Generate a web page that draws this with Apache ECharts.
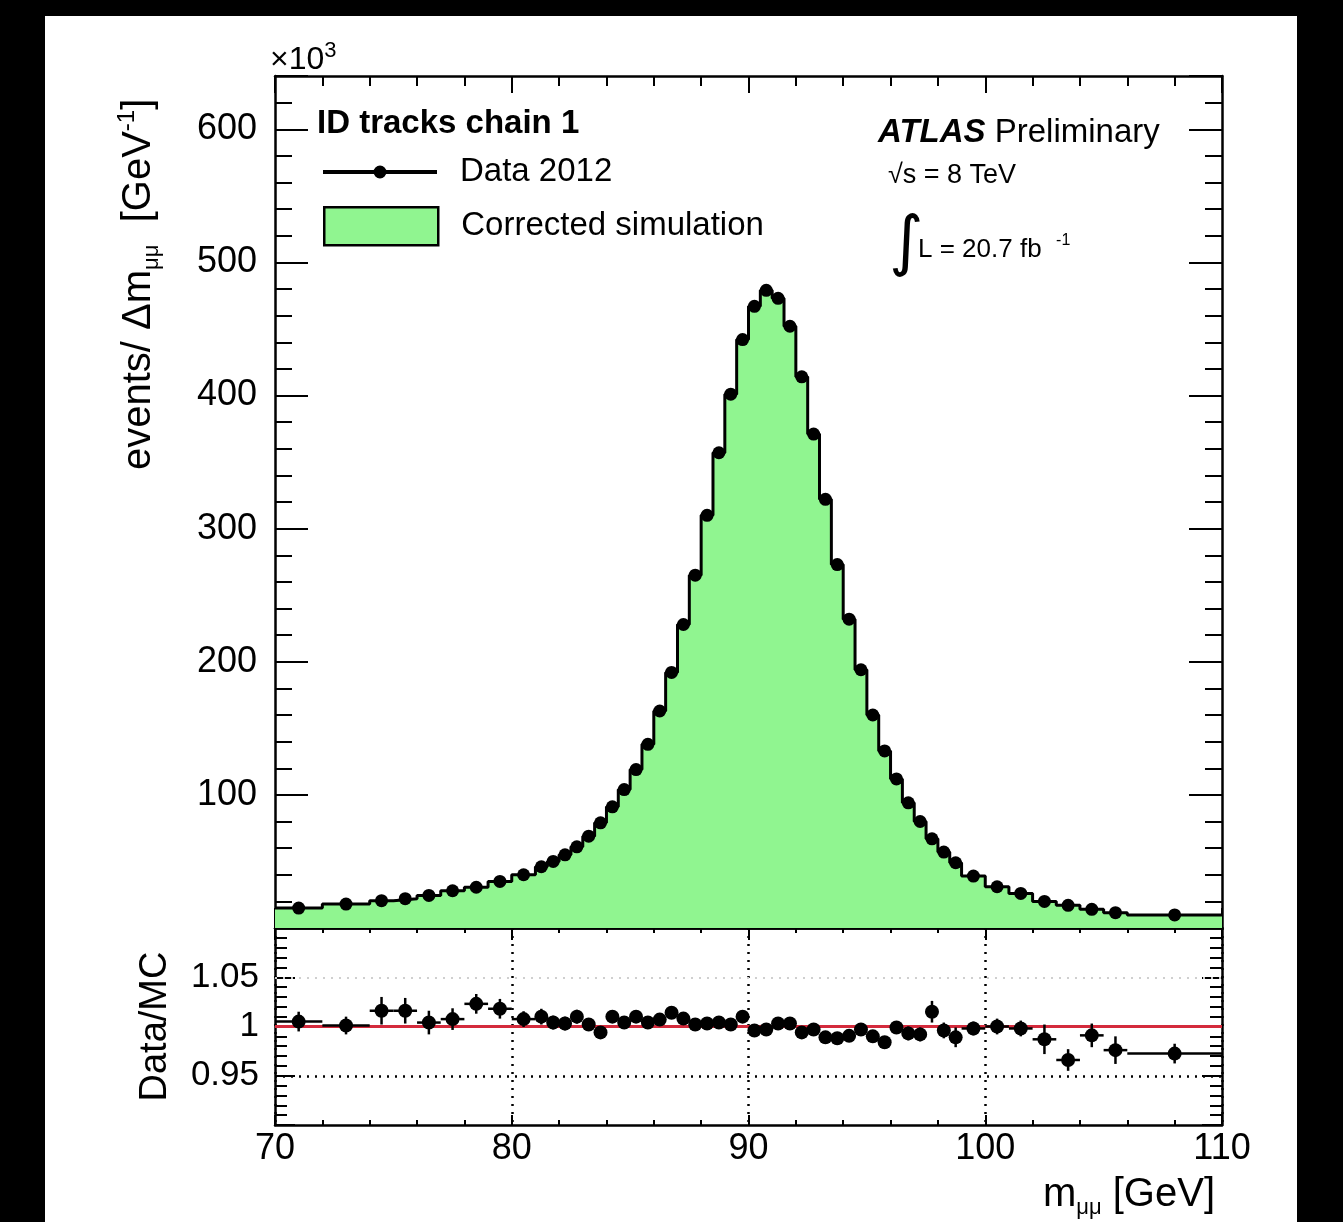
<!DOCTYPE html>
<html>
<head>
<meta charset="utf-8">
<title>ID tracks chain 1 - dimuon mass</title>
<script src="https://cdn.jsdelivr.net/npm/echarts@6/dist/echarts.min.js"></script>
<style>
  html, body { margin: 0; padding: 0; background: #000; }
  #paper { position: absolute; left: 45px; top: 16px; width: 1252px; height: 1206px; background: #fff; }
  #chart-container { position: absolute; left: 0; top: 0; width: 1343px; height: 1222px; }
</style>
</head>
<body>
<div id="paper"></div>
<div id="chart-container"></div>
<script>
// bin edges [GeV] - variable binning, 0.5 GeV around the peak
var binEdges = [
  70, 72, 74, 75, 76, 77, 78, 79, 80, 81,
  81.5, 82, 82.5, 83, 83.5, 84, 84.5, 85, 85.5, 86, 86.5, 87, 87.5, 88, 88.5, 89, 89.5, 90,
  90.5, 91, 91.5, 92, 92.5, 93, 93.5, 94, 94.5, 95, 95.5, 96, 96.5, 97, 97.5, 98, 98.5, 99,
  100, 101, 102, 103, 104, 105, 106, 110
];

// events / GeV, in units of 10^3 (data and corrected simulation overlap)
var eventsK = [
  15, 18, 20.5, 22, 24.5, 28, 30.6, 35, 40,
  46, 50, 55, 61, 69, 79, 91, 104, 119, 138, 163, 192, 228, 265, 310, 357, 401, 442,
  467, 479, 473, 452, 414, 371, 322, 273, 232, 194, 160, 133, 112, 94, 80, 67, 57, 49,
  39, 31, 26, 20, 17, 14, 11.5, 9.8
];

// Data/MC ratio and its uncertainty
var ratio = [
  1.005, 1.001, 1.016, 1.016, 1.004, 1.0075, 1.023, 1.018, 1.0075,
  1.010, 1.004, 1.003, 1.010, 1.002, 0.994, 1.010, 1.004, 1.010, 1.004, 1.007, 1.014, 1.008, 1.002, 1.003, 1.004, 1.002, 1.010,
  0.996, 0.997, 1.003, 1.003, 0.994, 0.997, 0.989, 0.988, 0.9905, 0.997, 0.990, 0.984, 0.999, 0.993, 0.992, 1.015, 0.996, 0.989,
  0.998, 1.000, 0.998, 0.987, 0.966, 0.991, 0.976, 0.9725
];
var ratioErr = [
  0.010, 0.009, 0.014, 0.013, 0.012, 0.011, 0.010, 0.010, 0.008,
  0.008, 0.007, 0.007, 0.007, 0.006, 0.006, 0.006, 0.005, 0.005, 0.005, 0.005, 0.004, 0.004, 0.004, 0.004, 0.004, 0.004, 0.004,
  0.004, 0.004, 0.004, 0.004, 0.004, 0.004, 0.004, 0.004, 0.004, 0.005, 0.005, 0.005, 0.006, 0.007, 0.007, 0.011, 0.008, 0.010,
  0.007, 0.008, 0.008, 0.015, 0.011, 0.012, 0.014, 0.010
];

var xTicks = [70, 80, 90, 100, 110];
var ratioTicks = ['0.95', '1', '1.05'];

var FONT = 'Liberation Sans';
var GREEN = '#90f590';
var RED = '#d42a3c';

// build step outline + data points from the bins
var stepPoints = [];
var dataPoints = [];
var ratioPoints = [];
for (var i = 0; i < eventsK.length; i++) {
  var lo = binEdges[i], hi = binEdges[i + 1], c = (lo + hi) / 2;
  stepPoints.push([lo, eventsK[i]]);
  stepPoints.push([hi, eventsK[i]]);
  dataPoints.push([c, eventsK[i]]);
  ratioPoints.push([c, ratio[i], lo, hi, ratioErr[i]]);
}

function renderRatio(params, api) {
  var a = api.coord([api.value(2), api.value(1)]);
  var b = api.coord([api.value(3), api.value(1)]);
  var up = api.coord([api.value(0), api.value(1) + api.value(4)]);
  var dn = api.coord([api.value(0), api.value(1) - api.value(4)]);
  var p = api.coord([api.value(0), api.value(1)]);
  var st = { stroke: '#000', lineWidth: 2.5 };
  return {
    type: 'group',
    children: [
      { type: 'line', shape: { x1: a[0], y1: a[1], x2: b[0], y2: b[1] }, style: st },
      { type: 'line', shape: { x1: up[0], y1: up[1], x2: dn[0], y2: dn[1] }, style: st },
      { type: 'circle', shape: { cx: p[0], cy: p[1], r: 7 }, style: { fill: '#000' } }
    ]
  };
}

var frame = { show: true, onZero: false, lineStyle: { color: '#000', width: 2.5 } };

function xAxisCfg(grid, pos, major, minor, labels) {
  return {
    type: 'value', gridIndex: grid, position: pos, min: 70, max: 110, interval: 10,
    axisLine: frame,
    axisTick: { show: true, inside: true, length: major, lineStyle: { color: '#000', width: 2 } },
    minorTick: { show: true, splitNumber: 5, length: minor, lineStyle: { color: '#000', width: 2 } },
    axisLabel: {
      show: labels, margin: 6, fontSize: 36, fontFamily: FONT, color: '#000',
      formatter: function (v) { return xTicks.indexOf(v) >= 0 ? String(v) : ''; }
    },
    splitLine: { show: false }
  };
}

function yMainCfg(pos, interval, len, labels, line) {
  return {
    type: 'value', gridIndex: 0, position: pos, min: 0, max: 640, interval: interval,
    axisLine: line ? frame : { show: false },
    axisTick: { show: true, inside: true, length: len, lineStyle: { color: '#000', width: 2 } },
    axisLabel: {
      show: labels, margin: 18, fontSize: 36, fontFamily: FONT, color: '#000',
      formatter: function (v) { return (v > 0 && v <= 600) ? String(v) : ''; }
    },
    splitLine: { show: false }
  };
}

function yRatioCfg(pos, labels) {
  return {
    type: 'value', gridIndex: 1, position: pos, min: 0.9, max: 1.1, interval: 0.05,
    axisLine: frame,
    axisTick: { show: true, inside: true, length: 20, lineStyle: { color: '#000', width: 2 } },
    minorTick: { show: true, splitNumber: 5, length: 12, lineStyle: { color: '#000', width: 2 } },
    axisLabel: {
      show: labels, margin: 16, fontSize: 35, fontFamily: FONT, color: '#000',
      formatter: function (v) {
        var s = String(Math.round(v * 100) / 100);
        return ratioTicks.indexOf(s) >= 0 ? s : '';
      }
    },
    splitLine: { show: false },
    name: labels ? 'Data/MC' : '',
    nameLocation: 'middle', nameRotate: 90, nameGap: 100,
    nameTextStyle: { fontSize: 38, fontFamily: FONT, color: '#000' }
  };
}

var dataIcon = 'path://M0,4.5L51,4.5L51,8.5L0,8.5Z M63,4.5L114,4.5L114,8.5L63,8.5Z M50.5,6.5A6.5,6.5,0,1,1,63.5,6.5A6.5,6.5,0,1,1,50.5,6.5Z';

var chartDom = document.getElementById('chart-container');
var myChart = echarts.init(chartDom, null, { renderer: 'canvas' });

var option = {
  animation: false,
  backgroundColor: 'transparent',
  grid: [
    { left: 275, right: 121, top: 76, height: 852 },
    { left: 275, right: 121, top: 928, height: 197 }
  ],
  xAxis: [
    xAxisCfg(0, 'bottom', 20, 10, false),
    xAxisCfg(0, 'top', 17, 10, false),
    Object.assign(xAxisCfg(1, 'bottom', 10, 5, true), {
      splitLine: { show: true, lineStyle: { color: '#000', width: 2.5, type: [2, 6] } }
    }),
    xAxisCfg(1, 'top', 12, 5, false)
  ],
  yAxis: [
    yMainCfg('left', 100, 33, true, true),
    yMainCfg('left', 20, 17, false, false),
    yMainCfg('right', 100, 33, false, true),
    yMainCfg('right', 20, 17, false, false),
    yRatioCfg('left', true),
    yRatioCfg('right', false)
  ],
  legend: [
    {
      left: 323, top: 152, padding: 0, itemWidth: 114, itemHeight: 13, selectedMode: false,
      data: [{ name: 'Data 2012', icon: dataIcon, itemStyle: { color: '#000', opacity: 1 } }],
      textStyle: { fontSize: 33, fontFamily: FONT, color: '#000', lineHeight: 40, padding: [0, 0, 0, 18] }
    },
    {
      left: 323, top: 206, padding: 0, itemWidth: 114, itemHeight: 38, selectedMode: false,
      data: [{ name: 'Corrected simulation', icon: 'rect',
        itemStyle: { color: GREEN, borderColor: '#000', borderWidth: 2.5, opacity: 1 } }],
      textStyle: { fontSize: 33, fontFamily: FONT, color: '#000', lineHeight: 40, padding: [0, 0, 0, 18] }
    }
  ],
  series: [
    {
      name: 'Corrected simulation', type: 'line', xAxisIndex: 0, yAxisIndex: 0,
      data: stepPoints, symbol: 'none', z: 2,
      lineStyle: { color: '#000', width: 3 },
      itemStyle: { color: '#000' },
      areaStyle: { color: GREEN, opacity: 1 }
    },
    {
      name: 'Data 2012', type: 'scatter', xAxisIndex: 0, yAxisIndex: 0,
      data: dataPoints, symbol: 'circle', symbolSize: 13, z: 3,
      itemStyle: { color: '#000', opacity: 1 }
    },
    {
      name: 'Data/MC', type: 'custom', xAxisIndex: 2, yAxisIndex: 4, z: 3,
      data: ratioPoints, encode: { x: 0, y: 1 }, renderItem: renderRatio,
      markLine: {
        silent: true, symbol: 'none', z: 1, label: { show: false },
        data: [
          { yAxis: 1, lineStyle: { color: RED, width: 3, type: 'solid' } },
          { yAxis: 0.95, lineStyle: { color: '#000', width: 2.5, type: [2, 6] } },
          { yAxis: 1.05, lineStyle: { color: '#cfcfcf', width: 2, type: [2, 6] } }
        ]
      }
    }
  ],
  graphic: [
    {
      type: 'text', x: 270, y: 60,
      style: {
        text: '×10{sup|3}', fontSize: 32, fontFamily: FONT, fill: '#000',
        align: 'left', textAlign: 'left', verticalAlign: 'middle', textVerticalAlign: 'middle',
        rich: { sup: { fontSize: 22, fontFamily: FONT, verticalAlign: 'top', lineHeight: 40 } }
      }
    },
    {
      type: 'text', x: 139, y: 470, rotation: Math.PI / 2,
      style: {
        text: 'events/ Δm{sub|μμ}  [GeV{sup|-1}]', fontSize: 40, fontFamily: FONT, fill: '#000',
        align: 'left', textAlign: 'left', verticalAlign: 'middle', textVerticalAlign: 'middle',
        rich: {
          sub: { fontSize: 22, fontFamily: FONT, verticalAlign: 'bottom', lineHeight: 48 },
          sup: { fontSize: 24, fontFamily: FONT, verticalAlign: 'top', lineHeight: 48 }
        }
      }
    },
    {
      type: 'text', x: 1215, y: 1195,
      style: {
        text: 'm{sub|μμ} [GeV]', fontSize: 40, fontFamily: FONT, fill: '#000',
        align: 'right', textAlign: 'right', verticalAlign: 'middle', textVerticalAlign: 'middle',
        rich: { sub: { fontSize: 22, fontFamily: FONT, verticalAlign: 'bottom', lineHeight: 48 } }
      }
    },
    {
      type: 'text', x: 317, y: 124,
      style: {
        text: 'ID tracks chain 1', fontSize: 33, fontWeight: 'bold', fontFamily: FONT, fill: '#000',
        align: 'left', textAlign: 'left', verticalAlign: 'middle', textVerticalAlign: 'middle'
      }
    },
    {
      type: 'text', x: 878, y: 133,
      style: {
        text: '{b|ATLAS} Preliminary', fontSize: 33, fontFamily: FONT, fill: '#000',
        align: 'left', textAlign: 'left', verticalAlign: 'middle', textVerticalAlign: 'middle',
        rich: { b: { fontSize: 33, fontFamily: FONT, fontWeight: 'bold', fontStyle: 'italic' } }
      }
    },
    {
      type: 'text', x: 888, y: 176,
      style: {
        text: '√s = 8 TeV', fontSize: 27, fontFamily: FONT, fill: '#000',
        align: 'left', textAlign: 'left', verticalAlign: 'middle', textVerticalAlign: 'middle'
      }
    },
    {
      type: 'text', x: 889, y: 246,
      style: {
        text: '∫', fontSize: 66, fontFamily: 'DejaVu Sans', fill: '#000',
        align: 'left', textAlign: 'left', verticalAlign: 'middle', textVerticalAlign: 'middle'
      }
    },
    {
      type: 'text', x: 918, y: 250,
      style: {
        text: 'L = 20.7 fb  {sup|-1}', fontSize: 26, fontFamily: FONT, fill: '#000',
        align: 'left', textAlign: 'left', verticalAlign: 'middle', textVerticalAlign: 'middle',
        rich: { sup: { fontSize: 16, fontFamily: FONT, verticalAlign: 'top', lineHeight: 34 } }
      }
    }
  ]
};

option && myChart.setOption(option);

window.addEventListener('resize', function () {
  myChart.resize();
});
</script>
</body>
</html>
